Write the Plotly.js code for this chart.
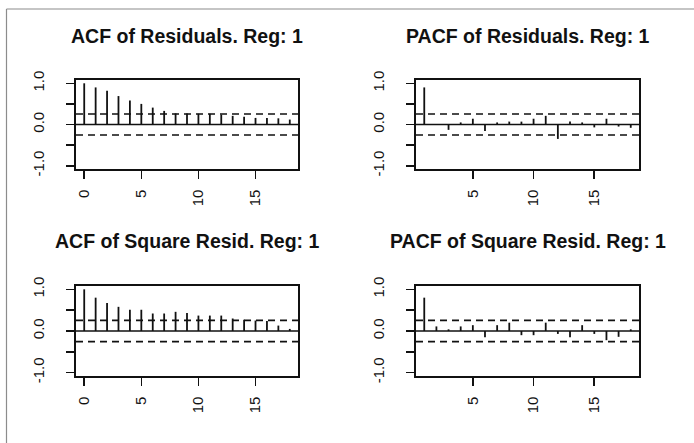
<!DOCTYPE html>
<html>
<head>
<meta charset="utf-8">
<script src="https://cdn.plot.ly/plotly-3.0.1.min.js"></script>
<style>html,body{margin:0;padding:0;background:#fff;}#chart{width:694px;height:443px;}</style>
</head>
<body>
<div id="chart"></div>
<script>
// Data
const acfLags = [0,1,2,3,4,5,6,7,8,9,10,11,12,13,14,15,16,17,18];
const pacfLags = [1,2,3,4,5,6,7,8,9,10,11,12,13,14,15,16,17,18];
const acfResid = [1.0,0.90,0.82,0.69,0.58,0.50,0.41,0.33,0.27,0.27,0.26,0.26,0.24,0.21,0.19,0.16,0.16,0.15,0.12];
const pacfResid = [0.90,0.01,-0.13,0.05,0.14,-0.16,0.05,0.07,0.07,0.14,0.21,-0.35,0.07,0.05,-0.07,0.14,-0.05,-0.08];
const acfSq = [1.0,0.80,0.67,0.58,0.51,0.51,0.42,0.42,0.46,0.43,0.37,0.37,0.37,0.30,0.27,0.25,0.24,0.13,0.05];
const pacfSq = [0.80,0.11,0.04,0.11,0.14,-0.15,0.14,0.20,-0.10,-0.10,0.20,-0.07,-0.15,0.14,-0.07,-0.22,-0.14,0.04];
const ciBound = 0.255;
const titles = ["ACF of Residuals. Reg: 1","PACF of Residuals. Reg: 1","ACF of Square Resid. Reg: 1","PACF of Square Resid. Reg: 1"];
const yTickVals = [-1,-0.5,0,0.5,1];
const yTickText = ["-1.0","","0.0","","1.0"];
const acfTicks = [0,5,10,15];
const pacfTicks = [5,10,15];

const panels = [
  {lags: acfLags, vals: acfResid, ticks: acfTicks, range: [-0.72,18.72]},
  {lags: pacfLags, vals: pacfResid, ticks: pacfTicks, range: [0.32,18.68]},
  {lags: acfLags, vals: acfSq, ticks: acfTicks, range: [-0.72,18.72]},
  {lags: pacfLags, vals: pacfSq, ticks: pacfTicks, range: [0.32,18.68]}
];

const W = 694, H = 443;
const xDom = [[76/W, 298/W],[416/W, 639/W],[76/W, 298/W],[416/W, 639/W]];
const yDom = [[1-169/H, 1-80/H],[1-169/H, 1-80/H],[1-376/H, 1-286/H],[1-376/H, 1-286/H]];
const titleY = [36, 36, 241, 241];

const ink = '#111';
const FONT = 'Liberation Sans, Arial, sans-serif';
const traces = [];
const shapes = [];
const annotations = [];
const layout = {
  width: W, height: H,
  margin: {l:0, r:0, t:0, b:0},
  paper_bgcolor: '#fff', plot_bgcolor: '#fff',
  showlegend: false,
  font: {family: FONT, color: ink, size: 15}
};

panels.forEach((p, i) => {
  const n = i + 1;
  const xs = [], ys = [];
  p.lags.forEach((lag, k) => { xs.push(lag, lag, null); ys.push(0, p.vals[k], null); });
  traces.push({
    type: 'scatter', mode: 'lines', x: xs, y: ys,
    xaxis: 'x' + n, yaxis: 'y' + n,
    line: {color: ink, width: 1.8}, hoverinfo: 'skip'
  });
  const xa = n === 1 ? 'xaxis' : 'xaxis' + n;
  const ya = n === 1 ? 'yaxis' : 'yaxis' + n;
  layout[xa] = {
    domain: xDom[i], anchor: 'y' + n, range: p.range,
    showgrid: false, zeroline: false,
    showline: true, mirror: true, linecolor: ink, linewidth: 1.6,
    ticks: 'outside', ticklen: 8, tickwidth: 1.6, tickcolor: ink,
    tickmode: 'array', tickvals: p.ticks, ticktext: p.ticks.map(String),
    tickangle: -90, ticklabelstandoff: 5,
    tickfont: {size: 15, color: ink, family: FONT}
  };
  layout[ya] = {
    domain: yDom[i], anchor: 'x' + n, range: [-1.08, 1.08],
    showgrid: false, zeroline: false,
    showline: true, mirror: true, linecolor: ink, linewidth: 1.6,
    ticks: 'outside', ticklen: 8, tickwidth: 1.6, tickcolor: ink,
    tickmode: 'array', tickvals: yTickVals, ticktext: yTickText,
    tickangle: -90, ticklabelstandoff: 16,
    tickfont: {size: 15, color: ink, family: FONT}
  };
  const xr = 'x' + n + ' domain';
  const yr = 'y' + n;
  shapes.push({type:'line', xref: xr, yref: yr, x0: 0, x1: 1, y0: 0, y1: 0, line:{color: ink, width: 1.6}});
  shapes.push({type:'line', xref: xr, yref: yr, x0: 0, x1: 1, y0: ciBound, y1: ciBound, line:{color: ink, width: 1.6, dash: '7px,5px'}});
  shapes.push({type:'line', xref: xr, yref: yr, x0: 0, x1: 1, y0: -ciBound, y1: -ciBound, line:{color: ink, width: 1.6, dash: '7px,5px'}});
  annotations.push({
    text: '<b>' + titles[i] + '</b>', xref: 'paper', yref: 'paper',
    x: (xDom[i][0] + xDom[i][1]) / 2, y: 1 - titleY[i] / H,
    xanchor: 'center', yanchor: 'middle', showarrow: false,
    font: {size: 19.5, color: ink, family: FONT}
  });
});

// outer gray frame (left and top edges)
shapes.push({type:'line', xref:'paper', yref:'paper', x0: 6.5/W, x1: 6.5/W, y0: 0, y1: 1-9/H, line:{color:'#8c8c8c', width:1.2}});
shapes.push({type:'line', xref:'paper', yref:'paper', x0: 6.5/W, x1: 1, y0: 1-9/H, y1: 1-9/H, line:{color:'#8c8c8c', width:1.2}});

layout.shapes = shapes;
layout.annotations = annotations;

Plotly.newPlot('chart', traces, layout, {displayModeBar: false, staticPlot: true});
</script>
</body>
</html>
